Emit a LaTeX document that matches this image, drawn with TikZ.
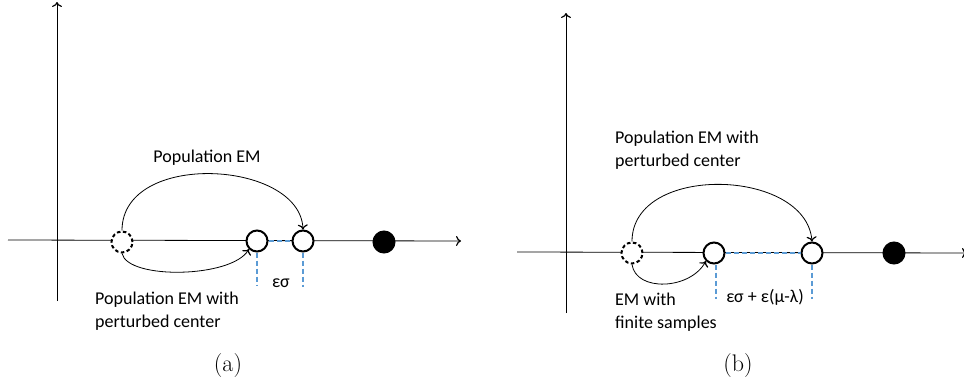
\documentclass[tikz,border=0pt]{standalone}
\usepackage{fontspec}
\setmainfont{Carlito}
\newfontfamily\capfont{Latin Modern Roman}
\usetikzlibrary{positioning,arrows.meta}

\begin{document}
\begin{tikzpicture}[x=1pt,y=-1pt,
    every node/.style={font=\fontsize{18}{23}\selectfont},
    >={To[length=5pt,width=10pt,line width=1.2pt]},
    axis/.style={->, line width=0.8pt},
    hop/.style={->, line width=0.8pt},
    pt/.style={circle, draw, line width=2pt, minimum size=21pt, inner sep=0pt, fill=white},
    ptdash/.style={pt, dash pattern=on 3.5pt off 2.5pt},
    ptfull/.style={pt, fill=black},
    gap/.style={draw={rgb,255:red,91;green,155;blue,213}, line width=1.5pt, dash pattern=on 5pt off 3pt},
    lbl/.style={align=left, anchor=north west, inner sep=0pt},
    caption/.style={font=\capfont\fontsize{24}{28}\selectfont}]
  \useasboundingbox (0,0) rectangle (964,383);

  % panel (a)
  \coordinate (xa0) at (8,240);
  \coordinate (xa1) at (461,241);
  \coordinate (ya0) at (57,301);
  \coordinate (ya1) at (57,2);
  \draw[axis] (xa0) -- (xa1);
  \draw[axis] (ya0) -- (ya1);

  \node[ptdash] (a1) at (122,242) {};
  \node[pt] (a2) at (257,241) {};
  \node[pt] (a3) at (303,241) {};
  \node[ptfull] (a4) at (384,242) {};

  \draw[gap] (a2.east) -- (a3.west);
  \draw[gap] (a2.south) -- ++(0,33);
  \draw[gap] (a3.south) -- ++(0,34);
  \node (epsa) at (281,283) {εσ};

  \draw[hop] (a1.north) .. controls (122,150) and (300,160) .. (a3.north);
  \draw[hop] (a1.south) .. controls (128,280) and (232,278) .. (a2.south west);

  \node (pa) at (207,158) {Population EM};
  \node[lbl] (pca) at (95,292) {Population EM with\\perturbed center};
  \node[caption] (cap a) at (228,366) {(a)};

  % panel (b)
  \coordinate (xb0) at (517,252);
  \coordinate (xb1) at (967,253);
  \coordinate (yb0) at (566,313);
  \coordinate (yb1) at (566,13);
  \draw[axis] (xb0) -- (xb1);
  \draw[axis] (yb0) -- (yb1);

  \node[ptdash] (b1) at (632,253) {};
  \node[pt] (b2) at (714,253) {};
  \node[pt] (b3) at (812,253) {};
  \node[ptfull] (b4) at (894,253) {};

  \draw[gap] (b2.east) -- (b3.west);
  \draw[gap] (b2.south) ++(2,0) -- ++(0,34);
  \draw[gap] (b3.south) -- ++(0,34);
  \node (epsb) at (765,297) {εσ + ε(μ-λ)};

  \draw[hop] (b1.north) .. controls (632,163) and (806,168) .. (b3.north);
  \draw[hop] (b1.south) .. controls (636,292) and (690,290) .. (b2.south west);

  \node[lbl] (pcb) at (615,131) {Population EM with\\perturbed center};
  \node[lbl] (fsb) at (615,293) {EM with\\finite samples};
  \node[caption] (cap b) at (738,366) {(b)};
\end{tikzpicture}
\end{document}
